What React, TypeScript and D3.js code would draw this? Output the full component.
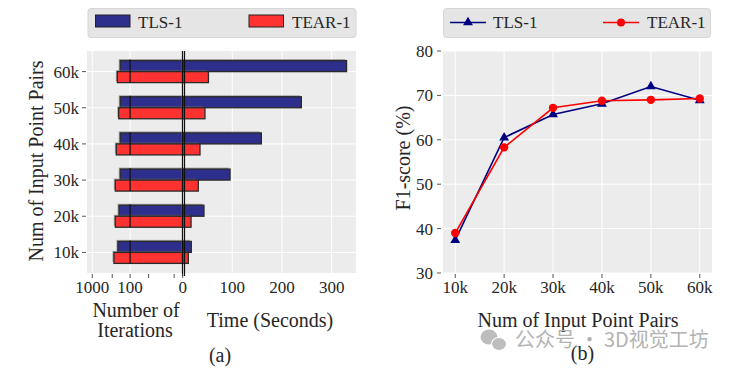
import React from "react";
import * as d3 from "d3";

// categories
const pairs = ["10k", "20k", "30k", "40k", "50k", "60k"];

// (a) iterations (left, symlog) and time in seconds (right)
const tlsIterations = [212, 198, 184, 184, 184, 184];
const tearIterations = [270, 249, 249, 234, 202, 220];
const tlsTime = [17.5, 43, 95.5, 158.5, 239, 330];
const tearTime = [11.5, 17, 31.6, 35, 45, 52];

const iterTicks = [1000, 100, 0];
const iterMinorTicks = [300, 30, 3];
const timeTicks = [100, 200, 300];

// (b) F1-score
const tlsF1 = [37.4, 60.5, 65.7, 68.1, 72.0, 68.9];
const tearF1 = [39.0, 58.3, 67.2, 68.8, 69.0, 69.3];
const f1Ticks = [30, 40, 50, 60, 70, 80];

const W = 729;
const H = 370;
const serif = "'Liberation Serif', 'Times New Roman', serif";
const bg = "#ececec";
const tlsBar = "#2e2e8c";
const tearBar = "#ff3232";
const tlsLine = "#000080";
const tearLine = "#ff0000";
const txt = "#262626";
const tickCol = "#555";

export default function App() {
  // ---- panel (a) ----
  const aLeft = 87, aRight = 356, aTop = 51, aBottom = 273;
  const iterX = d3.scaleSymlog().constant(4.5).domain([1372, 0]).range([aLeft, 182.7]);
  const timeX = d3.scaleLinear().domain([0, 349]).range([182.6, aRight]);
  const catY = d3.scalePoint<string>().domain(pairs).range([aBottom, aTop]).padding(0.57);
  const barH = 11;

  // bar with a small grey shadow up-left, like the original
  const bar = (x0: number, x1: number, y: number, fill: string, key: string) => (
    <g key={key}>
      <rect x={Math.min(x0, x1) - 1.5} y={y - 1.5} width={Math.abs(x1 - x0)} height={barH}
        fill="#6e6e6e" opacity={0.55} />
      <rect x={Math.min(x0, x1)} y={y} width={Math.abs(x1 - x0)} height={barH}
        fill={fill} stroke="#2a2a2a" strokeWidth={1.3} />
    </g>
  );

  // ---- panel (b) ----
  const bLeft = 443, bRight = 712, bTop = 51, bBottom = 273;
  const fx = d3.scalePoint<string>().domain(pairs).range([bLeft, bRight]).padding(0.25);
  const fy = d3.scaleLinear().domain([30, 80]).range([bBottom, bTop]);
  const line = d3.line<number>().x((_, i) => fx(pairs[i])!).y((d) => fy(d));
  const tri = d3.symbol().type(d3.symbolTriangle).size(42)()!;

  return (
    <svg width={W} height={H} style={{ position: "absolute", left: 0, top: 0, background: "#fff" }}
      fontFamily={serif}>
      {/* ===== (a) legend ===== */}
      <rect x={88} y={8.5} width={268} height={29} rx={3} fill="#e5e5e5" stroke="#d6d6d6" />
      <rect x={95.5} y={15} width={34.5} height={12} fill={tlsBar} stroke="#222" />
      <text x={138} y={28} fontSize={17} fill={txt}>TLS-1</text>
      <rect x={249} y={15} width={34.5} height={12} fill={tearBar} stroke="#222" />
      <text x={292} y={28} fontSize={17} fill={txt}>TEAR-1</text>

      {/* ===== (a) plot ===== */}
      <rect x={aLeft} y={aTop} width={aRight - aLeft} height={aBottom - aTop} fill={bg} />
      {pairs.map((p) => (
        <line key={"hg" + p} x1={aLeft} x2={aRight} y1={catY(p)} y2={catY(p)} stroke="#fff" strokeWidth={1} />
      ))}
      {iterTicks.filter((t) => t > 0).map((t) => (
        <line key={"ig" + t} x1={iterX(t)} x2={iterX(t)} y1={aTop} y2={aBottom} stroke="#fff" strokeWidth={1} />
      ))}
      {timeTicks.map((t) => (
        <line key={"tg" + t} x1={timeX(t)} x2={timeX(t)} y1={aTop} y2={aBottom} stroke="#fff" strokeWidth={1} />
      ))}

      {pairs.map((p, i) => {
        const y = catY(p)!;
        return (
          <g key={"bars" + p}>
            {bar(iterX(tlsIterations[i]), iterX(0), y - barH, tlsBar, "tl" + p)}
            {bar(iterX(tearIterations[i]), iterX(0), y, tearBar, "el" + p)}
            {bar(timeX(0), timeX(tlsTime[i]), y - barH, tlsBar, "tr" + p)}
            {bar(timeX(0), timeX(tearTime[i]), y, tearBar, "er" + p)}
            <line x1={iterX(100)} x2={iterX(100)} y1={y - barH - 1} y2={y + barH} stroke="#111" strokeWidth={1.2} />
          </g>
        );
      })}

      <line x1={182.5} x2={182.5} y1={aTop} y2={aBottom + 3} stroke="#111" strokeWidth={1.2} />
      <line x1={184.5} x2={184.5} y1={aTop} y2={aBottom + 3} stroke="#111" strokeWidth={1.2} />

      {/* y ticks (a) */}
      {pairs.map((p) => (
        <g key={"yt" + p}>
          <line x1={82} x2={86} y1={catY(p)} y2={catY(p)} stroke={tickCol} />
          <text x={79} y={catY(p)} dy="0.35em" textAnchor="end" fontSize={17} fill={txt}>{p}</text>
        </g>
      ))}
      {/* x ticks (a) */}
      {[...iterTicks, ...iterMinorTicks].map((t) => (
        <line key={"it" + t} x1={iterX(t)} x2={iterX(t)} y1={aBottom + 1} y2={aBottom + 5} stroke={tickCol} />
      ))}
      {iterTicks.map((t) => (
        <text key={"il" + t} x={iterX(t)} y={293} textAnchor="middle" fontSize={17} fill={txt}>{t}</text>
      ))}
      {timeTicks.map((t) => (
        <text key={"tl" + t} x={timeX(t)} y={293} textAnchor="middle" fontSize={17} fill={txt}>{t}</text>
      ))}

      <text transform="translate(43,161) rotate(-90)" textAnchor="middle" fontSize={20} fill={txt}>
        Num of Input Point Pairs
      </text>
      <text x={136} y={316.5} textAnchor="middle" fontSize={20} fill={txt}>Number of</text>
      <text x={135} y={336.5} textAnchor="middle" fontSize={20} fill={txt}>Iterations</text>
      <text x={270} y={326.5} textAnchor="middle" fontSize={20} fill={txt}>Time (Seconds)</text>
      <text x={220} y={361.5} textAnchor="middle" fontSize={20} fill={txt}>(a)</text>

      {/* ===== (b) legend ===== */}
      <rect x={443.5} y={8.5} width={267} height={29} rx={3} fill="#e5e5e5" stroke="#d6d6d6" />
      <line x1={450} x2={486} y1={22.5} y2={22.5} stroke={tlsLine} strokeWidth={1.6} />
      <path d={tri} transform="translate(468,22.5)" fill={tlsLine} />
      <text x={493} y={28} fontSize={17} fill={txt}>TLS-1</text>
      <line x1={603} x2={639} y1={22.5} y2={22.5} stroke={tearLine} strokeWidth={1.6} />
      <circle cx={621} cy={22.5} r={4} fill={tearLine} />
      <text x={647} y={28} fontSize={17} fill={txt}>TEAR-1</text>

      {/* ===== (b) plot ===== */}
      <rect x={bLeft} y={bTop} width={bRight - bLeft} height={bBottom - bTop} fill={bg} />
      {f1Ticks.map((t) => (
        <g key={"fg" + t}>
          <line x1={bLeft} x2={bRight} y1={fy(t)} y2={fy(t)} stroke="#fff" strokeWidth={1} />
          <line x1={437} x2={441} y1={fy(t)} y2={fy(t)} stroke={tickCol} />
          <text x={433} y={fy(t)} dy="0.35em" textAnchor="end" fontSize={17} fill={txt}>{t}</text>
        </g>
      ))}
      {pairs.map((p) => (
        <g key={"xg" + p}>
          <line x1={fx(p)} x2={fx(p)} y1={bTop} y2={bBottom} stroke="#fff" strokeWidth={1} />
          <line x1={fx(p)} x2={fx(p)} y1={bBottom + 1} y2={bBottom + 5} stroke={tickCol} />
          <text x={fx(p)} y={293} textAnchor="middle" fontSize={17} fill={txt}>{p}</text>
        </g>
      ))}

      <path d={line(tlsF1)!} fill="none" stroke={tlsLine} strokeWidth={1.6} />
      {tlsF1.map((v, i) => (
        <path key={"tm" + i} d={tri} transform={`translate(${fx(pairs[i])},${fy(v)})`} fill={tlsLine} />
      ))}
      <path d={line(tearF1)!} fill="none" stroke={tearLine} strokeWidth={1.6} />
      {tearF1.map((v, i) => (
        <circle key={"em" + i} cx={fx(pairs[i])} cy={fy(v)} r={4.2} fill={tearLine} />
      ))}

      <text transform="translate(410,158) rotate(-90)" textAnchor="middle" fontSize={20} fill={txt}>
        F1-score (%)
      </text>
      <text x={578} y={326.5} textAnchor="middle" fontSize={20} fill={txt}>Num of Input Point Pairs</text>

      {/* watermark */}
      <g fill="#bdbdbd">
        <ellipse cx={489} cy={337} rx={8.5} ry={7.5} />
        <ellipse cx={499} cy={344} rx={7.5} ry={6.5} stroke="#fff" strokeWidth={1.2} />
      </g>
      <text x={515} y={347} fontSize={20} fill="#b3b3b3"
        fontFamily="'Noto Sans CJK SC', 'Noto Sans', sans-serif">公众号 · 3D视觉工坊</text>

      <text x={582.5} y={360} textAnchor="middle" fontSize={20} fill={txt}>(b)</text>
    </svg>
  );
}
